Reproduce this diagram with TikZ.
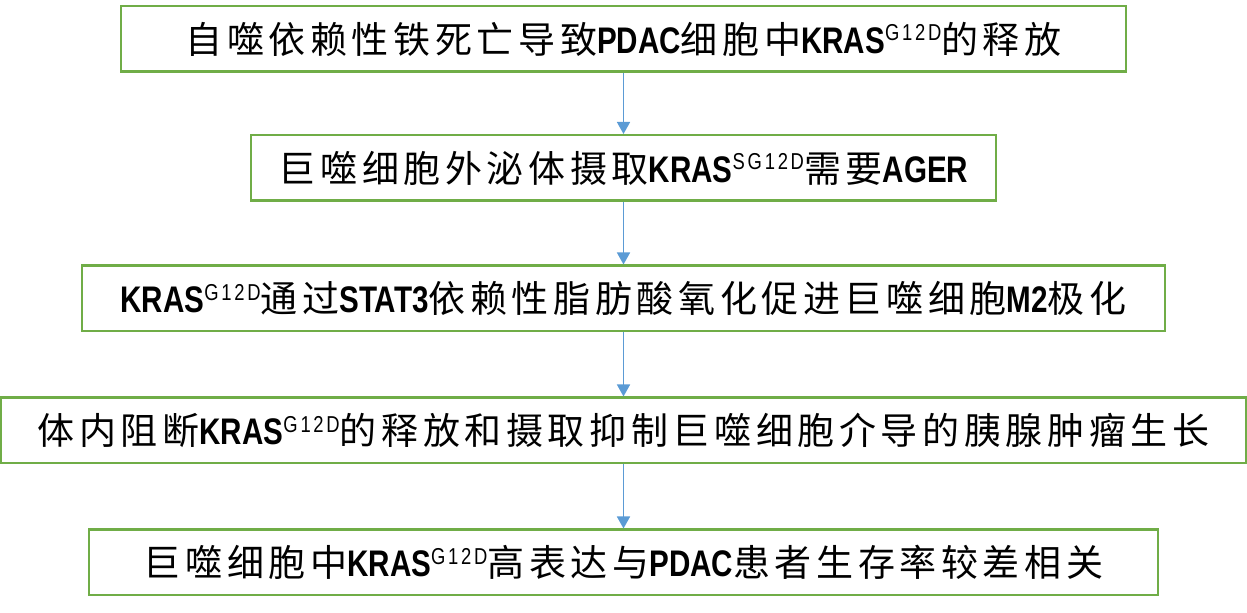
\documentclass[tikz,border=0pt]{standalone}
\usepackage{fontspec}
\usetikzlibrary{arrows.meta}
\newfontfamily\cjk{Noto Sans CJK SC}[LetterSpace=12.5]
\newfontfamily\lat{Liberation Sans}[FakeStretch=0.8]
\newcommand\zh[1]{{\cjk\fontsize{18.5}{20}\selectfont #1}}
\newcommand\en[1]{{\lat\bfseries\fontsize{18.5}{20}\selectfont #1}}
\newcommand\sx[1]{\raisebox{6.2pt}{\lat\fontsize{11.5}{11.5}\selectfont\addfontfeature{LetterSpace=12}#1}}
\definecolor{boxgreen}{HTML}{70AD47}
\definecolor{arrblue}{HTML}{5B9BD5}
\tikzset{
  stepbox/.style={draw=boxgreen, line width=1.25pt, inner sep=0pt, minimum height=32.75pt, text=black},
  flowarrow/.style={draw=arrblue, line width=0.8pt, -{Triangle[width=6.5pt,length=6pt]}}
}
\begin{document}
\begin{tikzpicture}[x=0.5pt,y=-0.5pt]
\useasboundingbox (0,0) rectangle (1247,613);
\node[stepbox, minimum width=502.5pt] (b1) at (623.5,39)
  {\zh{自噬依赖性铁死亡导致}\en{PDAC}\zh{细胞中}\en{KRAS}\sx{G12D}\zh{的释放}};
\node[stepbox, minimum width=372.5pt] (b2) at (623.5,168)
  {\zh{巨噬细胞外泌体摄取}\en{KRAS}\sx{SG12D}\zh{需要}\en{AGER}};
\node[stepbox, minimum width=541.5pt] (b3) at (623.5,298.5)
  {\en{KRAS}\sx{G12D}\zh{通过}\en{STAT3}\zh{依赖性脂肪酸氧化促进巨噬细胞}\en{M2}\zh{极化}};
\node[stepbox, minimum width=622.5pt] (b4) at (623.5,430.5)
  {\zh{体内阻断}\en{KRAS}\sx{G12D}\zh{的释放和摄取抑制巨噬细胞介导的胰腺肿瘤生长}};
\node[stepbox, minimum width=534.5pt] (b5) at (623.5,562.5)
  {\zh{巨噬细胞中}\en{KRAS}\sx{G12D}\zh{高表达与}\en{PDAC}\zh{患者生存率较差相关}};
\draw[flowarrow] (b1.south) -- (b2.north);
\draw[flowarrow] (b2.south) -- (b3.north);
\draw[flowarrow] (b3.south) -- (b4.north);
\draw[flowarrow] (b4.south) -- (b5.north);
\end{tikzpicture}
\end{document}
